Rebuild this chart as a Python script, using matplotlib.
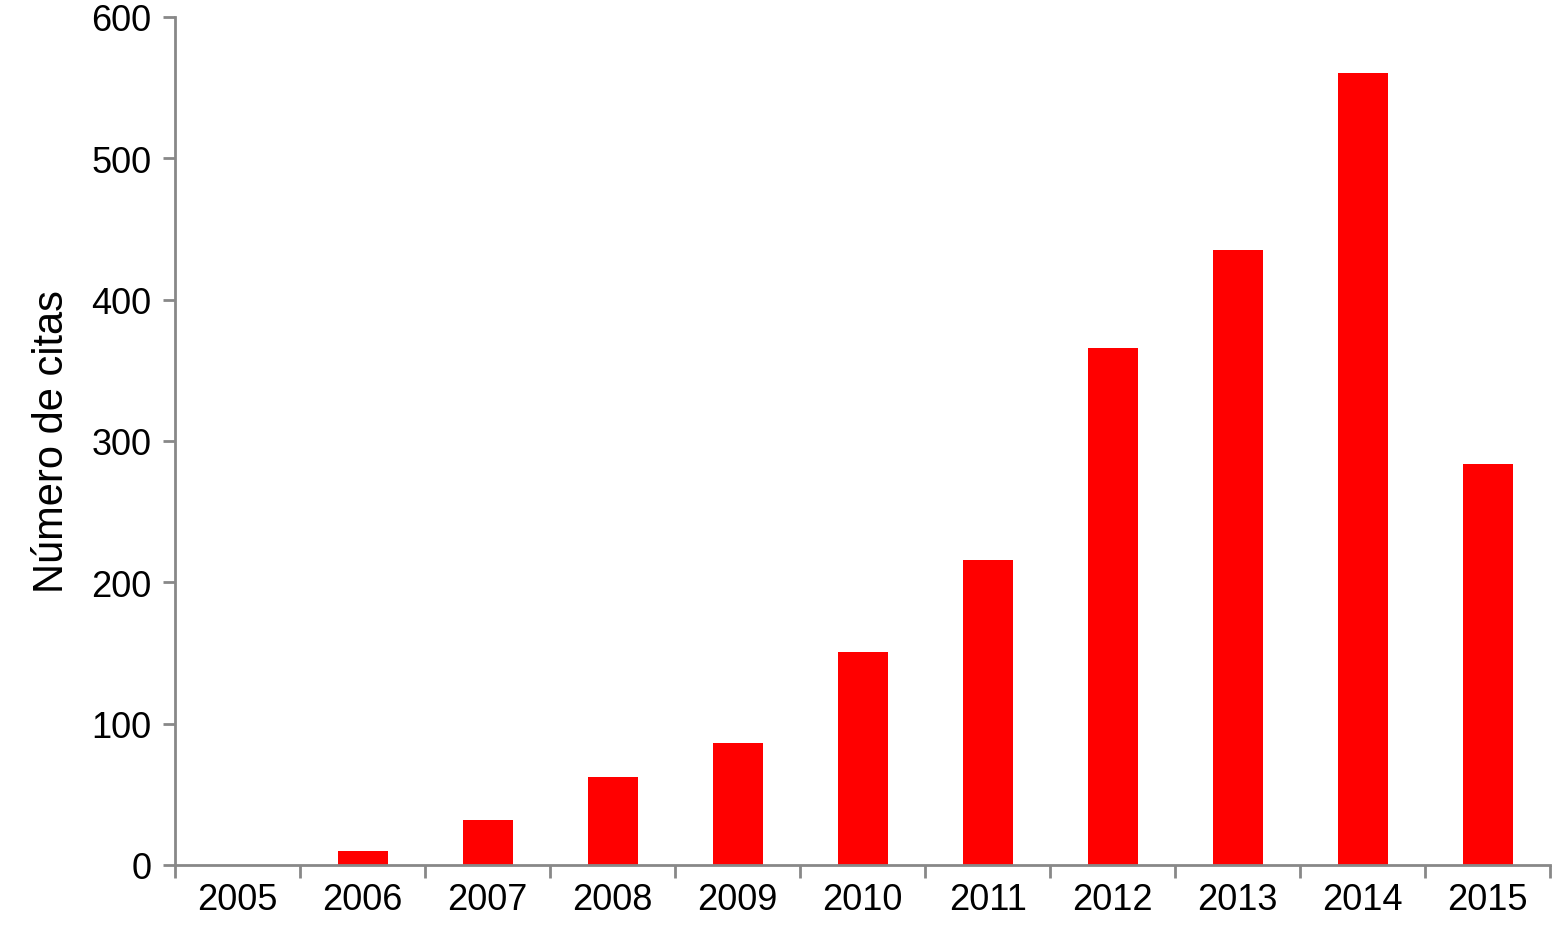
import numpy as np
import matplotlib.pyplot as plt

years = ["2005", "2006", "2007", "2008", "2009", "2010", "2011", "2012", "2013", "2014", "2015"]
citas = [0, 10, 32, 62, 86, 151, 216, 366, 435, 560, 284]

plt.rcParams['font.family'] = ['Liberation Sans', 'DejaVu Sans']

fig = plt.figure(figsize=(15.52, 9.45), dpi=100)
ax = fig.add_axes([0.1128, 0.0836, 0.886, 0.8974])

x = np.arange(len(years))
ax.bar(x, citas, width=0.4, color="#ff0000")

ax.set_xlim(-0.5, len(years) - 0.5)
ax.set_ylim(0, 600)
ax.set_yticks(range(0, 601, 100))
ax.set_xticks(x)
ax.set_xticklabels(years)
ax.set_xticks(np.arange(-0.5, len(years), 1), minor=True)

gray = "#888888"
for side in ["top", "right"]:
    ax.spines[side].set_visible(False)
for side in ["left", "bottom"]:
    ax.spines[side].set_color(gray)
    ax.spines[side].set_linewidth(2)

ax.tick_params(axis="x", which="major", length=0, labelsize=26, pad=12)
ax.tick_params(axis="x", which="minor", length=9, width=2, color=gray, direction="out")
ax.tick_params(axis="y", length=9, width=2, color=gray, labelsize=26, pad=8)
ax.set_ylabel("Número de citas", fontsize=30, labelpad=14)

fig.savefig("out.png", dpi=100)
